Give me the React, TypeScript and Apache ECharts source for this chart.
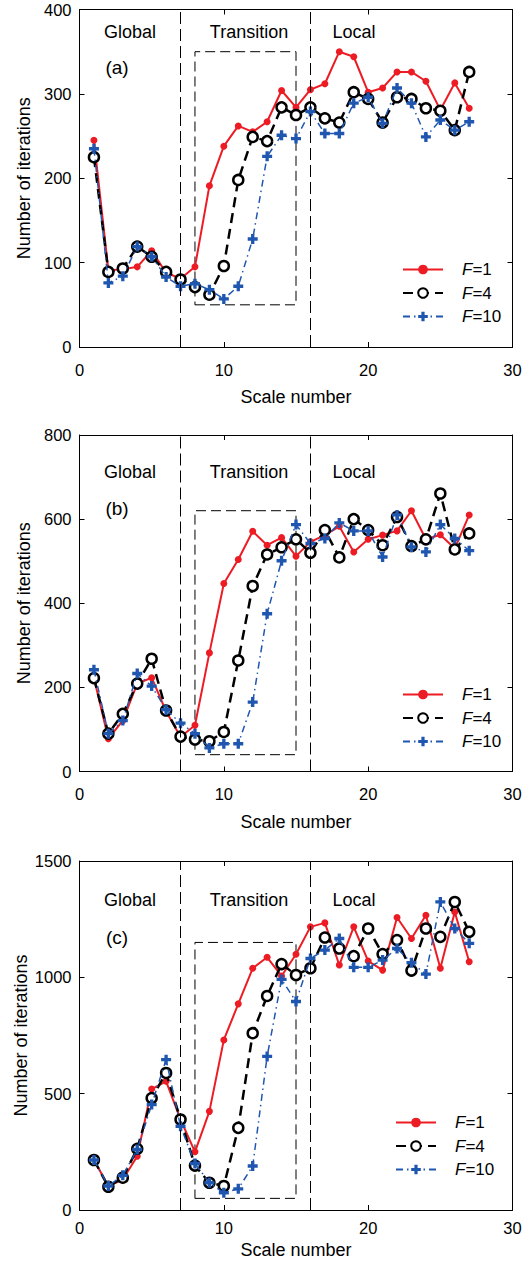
import React, { useEffect, useRef } from "react";
import * as echarts from "echarts";

const scaleNumbers = [1, 2, 3, 4, 5, 6, 7, 8, 9, 10, 11, 12, 13, 14, 15, 16, 17, 18, 19, 20, 21, 22, 23, 24, 25, 26, 27];

const aF1 = [245, 91, 92, 95, 114, 88, 81, 95, 191, 238, 262, 255, 267, 304, 284, 305, 312, 350, 344, 302, 307, 326, 326, 315, 281, 313, 283];
const aF4 = [225, 89, 93, 119, 107, 89, 80, 71, 62, 96, 198, 249, 244, 284, 275, 284, 271, 266, 302, 294, 266, 296, 294, 283, 280, 257, 326];
const aF10 = [235, 76, 84, 119, 107, 83, 72, 75, 68, 57, 72, 128, 226, 251, 247, 279, 253, 253, 289, 296, 265, 307, 289, 249, 269, 257, 267];

const bF1 = [222, 78, 121, 209, 223, 143, 82, 110, 282, 447, 504, 571, 538, 556, 512, 546, 562, 583, 522, 552, 562, 572, 620, 552, 563, 530, 610];
const bF4 = [222, 90, 137, 209, 268, 145, 83, 76, 72, 94, 264, 441, 516, 533, 552, 520, 574, 509, 600, 574, 538, 605, 536, 552, 661, 528, 566];
const bF10 = [242, 90, 121, 233, 203, 147, 115, 90, 56, 66, 66, 165, 375, 501, 587, 542, 554, 591, 572, 572, 510, 610, 534, 522, 587, 554, 525];

const cF1 = [215, 103, 131, 231, 520, 553, 389, 250, 424, 731, 886, 1039, 1086, 1006, 1099, 1217, 1234, 1053, 1217, 1070, 1031, 1257, 1167, 1267, 1039, 1281, 1067];
const cF4 = [215, 100, 139, 263, 481, 589, 389, 191, 117, 103, 353, 760, 920, 1057, 1010, 1039, 1171, 1124, 1091, 1210, 1100, 1160, 1029, 1210, 1174, 1324, 1196];
const cF10 = [215, 103, 149, 260, 453, 646, 360, 200, 117, 74, 91, 189, 660, 991, 896, 1081, 1117, 1167, 1043, 1043, 1074, 1124, 1063, 1014, 1324, 1210, 1146];

const seriesNames = ["F=1", "F=4", "F=10"];
const phaseNames = ["Global", "Transition", "Local"];
const panelTags = ["(a)", "(b)", "(c)"];
const phaseBounds = [7, 16];
const boxX = [8, 15];
const boxYA = [50, 350];
const boxYB = [40, 620];
const boxYC = [50, 1150];
const yMaxes = [400, 800, 1500];
const yIntervals = [100, 200, 500];
const xTicks = [0, 30, 10];

const FONT = '"Liberation Sans", Arial, sans-serif';
const RED = "#ed1c24";
const BLACK = "#000000";
const BLUE = "#1f57b0";
const PLUS = "path://M3,0H6V3H9V6H6V9H3V6H0V3H3Z";

const panels = [
  { top: 9.5, height: 337.5, data: [aF1, aF4, aF10], box: boxYA, textY: 32, tagY: 67, legTop: 256, legLeft: 397, lblMargin: 14, nameGap: 41, yNameGap: 47 },
  { top: 435, height: 336.5, data: [bF1, bF4, bF10], box: boxYB, textY: 472, tagY: 508, legTop: 681, legLeft: 397, lblMargin: 14, nameGap: 41, yNameGap: 47 },
  { top: 861, height: 349, data: [cF1, cF4, cF10], box: boxYC, textY: 900, tagY: 937, legTop: 1109, legLeft: 390, lblMargin: 9, nameGap: 31, yNameGap: 50 },
];

function pairs(ys: number[]) {
  return scaleNumbers.map((x, i) => [x, ys[i]]);
}

export default function App() {
  const ref = useRef<HTMLDivElement>(null);
  useEffect(() => {
    document.body.style.margin = "0";
    const chart = echarts.init(ref.current!, undefined, { renderer: "svg" });
    const grid: any[] = [];
    const xAxis: any[] = [];
    const yAxis: any[] = [];
    const series: any[] = [];
    const legend: any[] = [];
    const graphic: any[] = [];
    panels.forEach((p, k) => {
      grid.push({ left: 79.5, right: 10.5, top: p.top, height: p.height, containLabel: false, outerBoundsMode: "none" });
      const common = {
        gridIndex: k,
        axisLine: { show: true, onZero: false, lineStyle: { color: "#000", width: 1 } },
        axisTick: { show: true, inside: true, length: 5, lineStyle: { color: "#000" } },
        splitLine: { show: false },
      };
      xAxis.push({
        ...common,
        type: "value",
        position: "bottom",
        min: xTicks[0],
        max: xTicks[1],
        interval: xTicks[2],
        name: "Scale number",
        nameLocation: "middle",
        nameGap: p.nameGap,
        nameMoveOverlap: false,
        nameTextStyle: { fontSize: 18, fontFamily: FONT, color: "#000" },
        axisLabel: { fontSize: 16.5, fontFamily: FONT, color: "#000", margin: p.lblMargin, formatter: (v: number) => String(v) },
      });
      xAxis.push({
        ...common,
        type: "value",
        position: "top",
        min: xTicks[0],
        max: xTicks[1],
        interval: xTicks[2],
        axisLabel: { show: false },
      });
      yAxis.push({
        ...common,
        type: "value",
        position: "left",
        min: 0,
        max: yMaxes[k],
        interval: yIntervals[k],
        name: "Number of iterations",
        nameLocation: "middle",
        nameGap: p.yNameGap,
        nameMoveOverlap: false,
        nameTextStyle: { fontSize: 18, fontFamily: FONT, color: "#000" },
        axisLabel: { fontSize: 16.5, fontFamily: FONT, color: "#000", margin: 8, formatter: (v: number) => String(v) },
      });
      yAxis.push({
        ...common,
        type: "value",
        position: "right",
        min: 0,
        max: yMaxes[k],
        interval: yIntervals[k],
        axisLabel: { show: false },
      });
      const [d1, d4, d10] = p.data;
      series.push({
        type: "line",
        name: seriesNames[0],
        xAxisIndex: 2 * k,
        yAxisIndex: 2 * k,
        data: pairs(d1),
        symbol: "circle",
        symbolSize: 7,
        itemStyle: { color: RED },
        lineStyle: { color: RED, width: 2 },
        z: 2,
        markLine: {
          silent: true,
          symbol: "none",
          label: { show: false },
          lineStyle: { color: "#000", width: 1, type: [12, 5] },
          data: phaseBounds.map((b) => ({ xAxis: b })),
        },
        markArea: {
          silent: true,
          itemStyle: { color: "rgba(0,0,0,0)", borderColor: "#000", borderWidth: 1, borderType: [10, 5] },
          data: [[{ coord: [boxX[0], p.box[0]] }, { coord: [boxX[1], p.box[1]] }]],
        },
      });
      series.push({
        type: "line",
        name: seriesNames[1],
        xAxisIndex: 2 * k,
        yAxisIndex: 2 * k,
        data: pairs(d4),
        symbol: "circle",
        symbolSize: 10,
        itemStyle: { color: "#fff", borderColor: BLACK, borderWidth: 2.5 },
        lineStyle: { color: BLACK, width: 2.5, type: [10, 6] },
        z: 3,
      });
      series.push({
        type: "line",
        name: seriesNames[2],
        xAxisIndex: 2 * k,
        yAxisIndex: 2 * k,
        data: pairs(d10),
        symbol: PLUS,
        symbolSize: 10,
        itemStyle: { color: BLUE },
        lineStyle: { color: BLUE, width: 1.5, type: [7, 4, 1.5, 4] },
        z: 4,
      });
      legend.push({
        orient: "vertical",
        left: p.legLeft,
        top: p.legTop,
        itemWidth: 40,
        itemHeight: 12,
        itemGap: 6.5,
        data: seriesNames,
        selectedMode: false,
        formatter: (name: string) => `{i|F}{n|${name.slice(1)}}`,
        textStyle: {
          fontSize: 17,
          fontFamily: FONT,
          color: "#000",
          rich: {
            i: { fontStyle: "italic", fontSize: 17, fontFamily: FONT, padding: [0, 0, 0, 14] },
            n: { fontSize: 17, fontFamily: FONT },
          },
        },
      });
      const xs = [130, 249, 354];
      phaseNames.forEach((t, j) => {
        graphic.push({
          type: "text",
          x: xs[j],
          y: p.textY,
          style: { text: t, font: `18px ${FONT}`, fill: "#000", align: "center", verticalAlign: "middle" },
        });
      });
      graphic.push({
        type: "text",
        x: 117,
        y: p.tagY,
        style: { text: panelTags[k], font: `19px ${FONT}`, fill: "#000", align: "center", verticalAlign: "middle" },
      });
    });
    chart.setOption({
      animation: false,
      backgroundColor: "#fff",
      textStyle: { fontFamily: FONT },
      grid,
      xAxis,
      yAxis,
      series,
      legend,
      graphic,
    });
    return () => chart.dispose();
  }, []);
  return <div ref={ref} style={{ width: 523, height: 1266 }} />;
}
